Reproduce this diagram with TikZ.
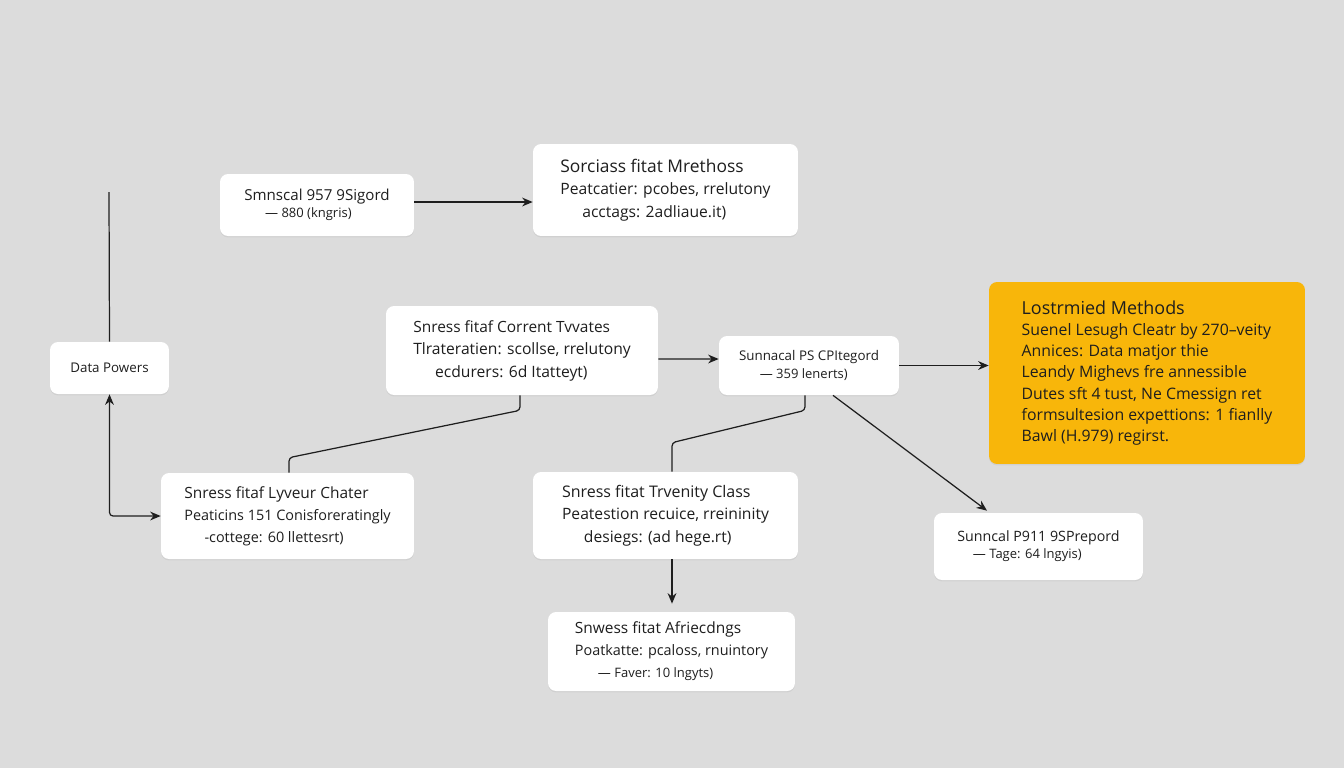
\documentclass[tikz,border=0pt]{standalone}
\usepackage{fontspec}
\setmainfont{Open Sans}
\usetikzlibrary{arrows.meta,calc,shadows}
\definecolor{bg}{HTML}{DCDCDC}
\definecolor{ylw}{HTML}{F8B60A}
\definecolor{ink}{HTML}{1E1E1E}
\begin{document}
\begin{tikzpicture}[x=0.02cm,y=-0.02cm,
  box/.style={fill=white, rounded corners=0.16cm, inner sep=0pt, text=ink, align=left,
    drop shadow={shadow xshift=0pt, shadow yshift=-0.8pt, opacity=0.12}},
  ybox/.style={box, fill=ylw},
  bigf/.style={font=\fontsize{8.2}{12.5}\selectfont},
  midf/.style={font=\fontsize{8.9}{12.8}\selectfont},
  smallf/.style={font=\fontsize{7.4}{9.8}\selectfont},
  yf/.style={font=\fontsize{9}{12}\selectfont},
  tip/.tip={Stealth[length=6pt,width=5pt]},
  ln/.style={line width=0.7pt, draw=ink},
  arr/.style={ln, -tip}]
\fill[bg] (0,0) rectangle (1344,768);

\node[box, smallf, minimum width=3.88cm, minimum height=1.24cm] (b1) at (317,205)
  {{\fontsize{8.6}{9.8}\selectfont Smnscal 957 9Sigord}\\\hspace*{1.6em}— 880 (kngris)};
\node[box, midf, minimum width=5.30cm, minimum height=1.84cm] (meth) at (665.5,190)
  {{\fontsize{9.9}{12.8}\selectfont Sorciass fitat Mrethoss}\\Peatcatier: pcobes, rrelutony\\\hspace*{1.4em}acctags: 2adliaue.it)};
\node[box, midf, minimum width=5.44cm, minimum height=1.78cm] (cur) at (522,350.5)
  {{\fontsize{8.8}{12.8}\selectfont Snress fitaf Corrent Tvvates}\\Tlrateratien: scollse, rrelutony\\\hspace*{1.4em}ecdurers: 6d Itatteyt)};
\node[box, smallf, minimum width=3.60cm, minimum height=1.18cm] (ps) at (809,365.5)
  {{\fontsize{7.6}{9.8}\selectfont Sunnacal PS CPItegord}\\\hspace*{1.6em}— 359 lenerts)};
\node[ybox, yf, minimum width=6.32cm, minimum height=3.64cm] (yel) at (1147,373)
  {{\fontsize{10.2}{12}\selectfont Lostrmied Methods}\\Suenel Lesugh Cleatr by 270–veity\\Annices: Data matjor thie\\Leandy Mighevs fre annessible\\Dutes sft 4 tust, Ne Cmessign ret\\formsultesion expettions: 1 fianlly\\Bawl (H.979) regirst.};
\node[box, smallf, minimum width=2.38cm, minimum height=1.04cm] (dp) at (109.5,368)
  {{\fontsize{7.6}{9.8}\selectfont Data Powers}};
\node[box, bigf, minimum width=5.06cm, minimum height=1.72cm] (lyv) at (287.5,516)
  {{\fontsize{8.8}{12.5}\selectfont Snress fitaf Lyveur Chater}\\Peaticins 151 Conisforeratingly\\\hspace*{1.4em}-cottege: 60 llettesrt)};
\node[box, midf, minimum width=5.30cm, minimum height=1.74cm] (trv) at (665.5,515.5)
  {{\fontsize{9.1}{12.8}\selectfont Snress fitat Trvenity Class}\\Peatestion recuice, rreininity\\\hspace*{1.4em}desiegs: (ad hege.rt)};
\node[box, smallf, minimum width=4.18cm, minimum height=1.34cm] (prep) at (1038.5,546.5)
  {{\fontsize{8.1}{9.8}\selectfont Sunncal P911 9SPrepord}\\\hspace*{1.2em}— Tage: 64 lngyis)};
\node[box, bigf, minimum width=4.94cm, minimum height=1.58cm] (afr) at (671.5,651.5)
  {{\fontsize{8.8}{12.5}\selectfont Snwess fitat Afriecdngs}\\Poatkatte: pcaloss, rnuintory\\\hspace*{1.6em}{\fontsize{7.4}{9}\selectfont — Faver: 10 lngyts)}};

\coordinate (top) at (109,192);
\draw[ln] (top) -- (dp.north);
\draw[ln, tip-tip, rounded corners=2pt] (dp.south) |- (lyv.west);
\draw[arr] ($(b1.east)+(0,-3)$) -- ($(meth.west)+(0,12)$);
\draw[arr] ($(cur.east)+(0,8.5)$) -- ($(ps.west)+(0,-6.5)$);
\draw[arr] (ps.east) -- (ps.east -| yel.west);
\draw[ln, rounded corners=2pt] ($(cur.south)+(-2,0)$) -- ++(0,15) -- ($(lyv.north)+(1.5,-15)$) -- ($(lyv.north)+(1.5,0)$);
\draw[ln, rounded corners=2pt] ($(ps.south)+(-4,0)$) -- ++(0,15) -- ($(trv.north)+(6.5,-29)$) -- ($(trv.north)+(6.5,0)$);
\draw[arr] ($(ps.south)+(24,0)$) -- ($(prep.north)+(-51.5,-2)$);
\draw[arr] ($(trv.south)+(6.5,0)$) -- ($(afr.north)+(0.5,-8)$);
\end{tikzpicture}
\end{document}
